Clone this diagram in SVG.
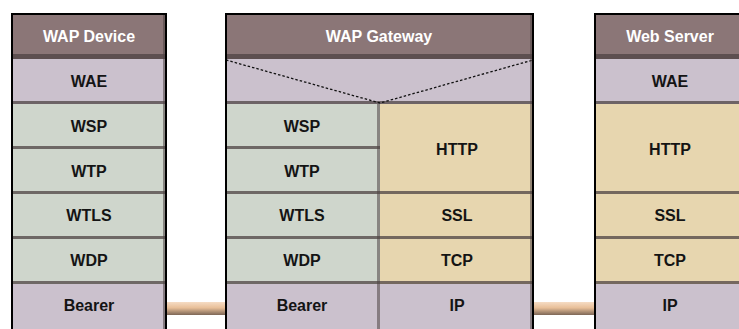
<svg xmlns="http://www.w3.org/2000/svg" width="739" height="329" viewBox="0 0 739 329">
  <defs>
    <linearGradient id="pipe" x1="0" y1="0" x2="0" y2="1">
      <stop offset="0" stop-color="#f6dcc4"/>
      <stop offset="0.45" stop-color="#e8bf98"/>
      <stop offset="1" stop-color="#7d6656"/>
    </linearGradient>
    <style>
      .hd{fill:#8b7677}
      .lav{fill:#cbc1cd}
      .grn{fill:#cfd6cc}
      .tan{fill:#e7d6af}
      .sh{fill:#4e4343;opacity:0.75}
      .shr{fill:#4e4343;opacity:0.55}
      .hl{fill:#ffffff;opacity:0.18}
      .frame{fill:none;stroke:#000;stroke-width:2}
      .t{font-family:"Liberation Sans",Arial,sans-serif;font-weight:bold;font-size:16px;text-anchor:middle;fill:#141414}
      .th{font-family:"Liberation Sans",Arial,sans-serif;font-weight:bold;font-size:16px;text-anchor:middle;fill:#ffffff}
      .dash{fill:none;stroke:#111;stroke-width:1.3;stroke-dasharray:2.5 2}
    </style>
  </defs>
  <rect width="739" height="329" fill="#ffffff"/>

  <g id="connectors">
    <rect x="167" y="302" width="58" height="13" fill="url(#pipe)"/>
    <rect x="534" y="302" width="60" height="13" fill="url(#pipe)"/>
  </g>

  <!-- WAP Device -->
  <g id="wap-device">
    <rect class="hd" x="11" y="13" width="156" height="46"/>
    <rect class="sh" x="11" y="54" width="156" height="5"/>
    <rect class="lav" x="11" y="59" width="156" height="45"/>
    <rect class="sh" x="11" y="101" width="156" height="3"/>
    <rect class="grn" x="11" y="104" width="156" height="45"/>
    <rect class="sh" x="11" y="146" width="156" height="3"/>
    <rect class="grn" x="11" y="149" width="156" height="45"/>
    <rect class="sh" x="11" y="191" width="156" height="3"/>
    <rect class="grn" x="11" y="194" width="156" height="45"/>
    <rect class="sh" x="11" y="236" width="156" height="3"/>
    <rect class="grn" x="11" y="239" width="156" height="45"/>
    <rect class="sh" x="11" y="281" width="156" height="3"/>
    <rect class="lav" x="11" y="284" width="156" height="45"/>
    <rect class="shr" x="163" y="13" width="3" height="316"/>
    <path class="frame" d="M12 329 V14 H166 V329"/>
    <text class="th" x="89" y="42">WAP Device</text>
    <text class="t" x="89" y="87">WAE</text>
    <text class="t" x="89" y="132">WSP</text>
    <text class="t" x="89" y="177">WTP</text>
    <text class="t" x="89" y="221">WTLS</text>
    <text class="t" x="89" y="266">WDP</text>
    <text class="t" x="89" y="311">Bearer</text>
  </g>

  <!-- WAP Gateway -->
  <g id="wap-gateway">
    <rect class="hd" x="225" y="13" width="309" height="46"/>
    <rect class="sh" x="225" y="54" width="309" height="5"/>
    <rect class="lav" x="225" y="59" width="309" height="45"/>
    <rect class="sh" x="225" y="101" width="309" height="3"/>
    <path class="dash" d="M226 60 L380 103 L533 60"/>
    <rect class="grn" x="225" y="104" width="155" height="45"/>
    <rect class="sh" x="225" y="146" width="155" height="3"/>
    <rect class="grn" x="225" y="149" width="155" height="45"/>
    <rect class="sh" x="225" y="191" width="155" height="3"/>
    <rect class="grn" x="225" y="194" width="155" height="45"/>
    <rect class="sh" x="225" y="236" width="155" height="3"/>
    <rect class="grn" x="225" y="239" width="155" height="45"/>
    <rect class="sh" x="225" y="281" width="155" height="3"/>
    <rect class="lav" x="225" y="284" width="155" height="45"/>
    <rect class="shr" x="377" y="104" width="3" height="225"/>
    <rect class="tan" x="380" y="104" width="154" height="90"/>
    <rect class="sh" x="380" y="191" width="154" height="3"/>
    <rect class="tan" x="380" y="194" width="154" height="45"/>
    <rect class="sh" x="380" y="236" width="154" height="3"/>
    <rect class="tan" x="380" y="239" width="154" height="45"/>
    <rect class="sh" x="380" y="281" width="154" height="3"/>
    <rect class="lav" x="380" y="284" width="154" height="45"/>
    <rect class="shr" x="530" y="13" width="3" height="316"/>
    <path class="frame" d="M226 329 V14 H533 V329"/>
    <text class="th" x="379" y="42">WAP Gateway</text>
    <text class="t" x="302" y="132">WSP</text>
    <text class="t" x="302" y="177">WTP</text>
    <text class="t" x="457" y="155">HTTP</text>
    <text class="t" x="302" y="221">WTLS</text>
    <text class="t" x="457" y="221">SSL</text>
    <text class="t" x="302" y="266">WDP</text>
    <text class="t" x="457" y="266">TCP</text>
    <text class="t" x="302" y="311">Bearer</text>
    <text class="t" x="457" y="311">IP</text>
  </g>

  <!-- Web Server -->
  <g id="web-server">
    <rect class="hd" x="594" y="13" width="150" height="46"/>
    <rect class="sh" x="594" y="54" width="150" height="5"/>
    <rect class="lav" x="594" y="59" width="150" height="45"/>
    <rect class="sh" x="594" y="101" width="150" height="3"/>
    <rect class="tan" x="594" y="104" width="150" height="90"/>
    <rect class="sh" x="594" y="191" width="150" height="3"/>
    <rect class="tan" x="594" y="194" width="150" height="45"/>
    <rect class="sh" x="594" y="236" width="150" height="3"/>
    <rect class="tan" x="594" y="239" width="150" height="45"/>
    <rect class="sh" x="594" y="281" width="150" height="3"/>
    <rect class="lav" x="594" y="284" width="150" height="45"/>
    <path class="frame" d="M595 329 V14 H745"/>
    <text class="th" x="670" y="42">Web Server</text>
    <text class="t" x="670" y="87">WAE</text>
    <text class="t" x="670" y="155">HTTP</text>
    <text class="t" x="670" y="221">SSL</text>
    <text class="t" x="670" y="266">TCP</text>
    <text class="t" x="670" y="311">IP</text>
  </g>
</svg>
